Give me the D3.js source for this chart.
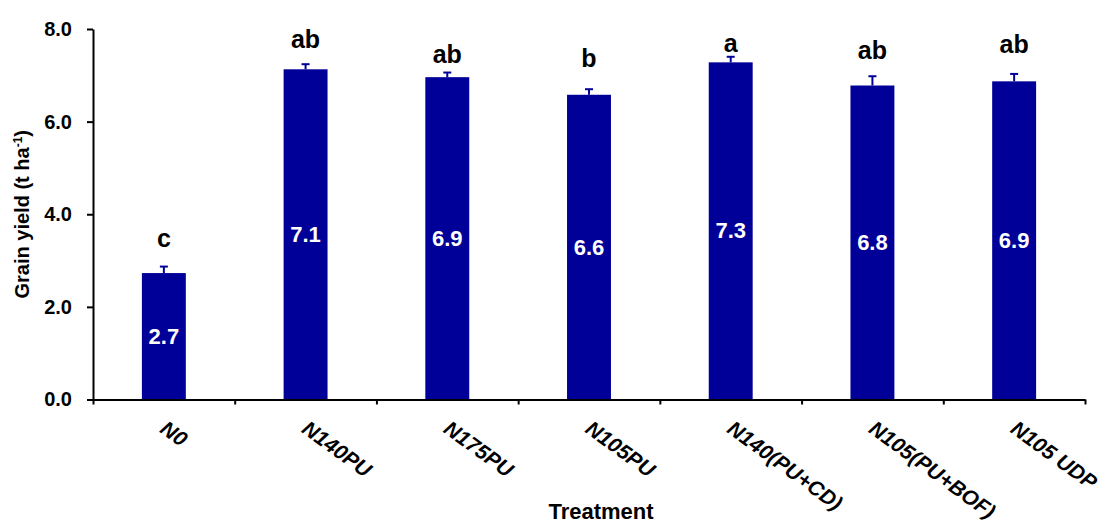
<!DOCTYPE html>
<html>
<head>
<meta charset="utf-8">
<script src="https://cdn.jsdelivr.net/npm/d3@7"></script>
<style>
    body { margin: 0; background: #fff; }
    text { font-family: "Liberation Sans", Arial, sans-serif; font-weight: bold; }
</style>
</head>
<body>
<script>
const width = 1112;
const height = 525;

let margin = {top: 29, right: 27, bottom: 125.5, left: 93};

// Data
const treatments = ["N0", "N140PU", "N175PU", "N105PU", "N140(PU+CD)", "N105(PU+BOF)", "N105 UDP"];
const yields = [2.73, 7.13, 6.96, 6.58, 7.28, 6.78, 6.87];
const yieldLabels = ["2.7", "7.1", "6.9", "6.6", "7.3", "6.8", "6.9"];
const errors = [0.14, 0.11, 0.10, 0.12, 0.12, 0.20, 0.16];
const letters = ["c", "ab", "ab", "b", "a", "ab", "ab"];
// height (in t/ha) where each significance letter sits
const letterLevels = [3.30, 7.58, 7.27, 7.19, 7.51, 7.35, 7.48];
const yTicks = [0, 2, 4, 6, 8];

const barColor = "#000099";

let svg = d3.select("body")
    .append("svg")
    .attr("width", width)
    .attr("height", height);

let xScale = d3.scaleBand()
    .domain(treatments)
    .range([margin.left, width - margin.right])
    .paddingInner(0.69)
    .paddingOuter(0.345);

// index scale, used only to put the x ticks between the bars
let xEdge = d3.scaleLinear()
    .domain([0, treatments.length])
    .range([margin.left, width - margin.right]);

let yScale = d3.scaleLinear()
    .domain([0, 8])
    .range([height - margin.bottom, margin.top]);

let center = d => xScale(d) + xScale.bandwidth() / 2;

///////////////
// Draw bars //
///////////////
let data = treatments.map((t, i) => ({
    name: t, value: yields[i], label: yieldLabels[i],
    err: errors[i], letter: letters[i], level: letterLevels[i]
}));

svg.selectAll("rect.bar")
    .data(data)
    .join("rect")
    .attr("class", "bar")
    .attr("x", d => xScale(d.name))
    .attr("y", d => yScale(d.value))
    .attr("width", xScale.bandwidth())
    .attr("height", d => yScale(0) - yScale(d.value))
    .attr("fill", barColor);

// error bars (upper half only)
let err = svg.append("g").attr("stroke", barColor).attr("stroke-width", 2);
err.selectAll("line.stem")
    .data(data)
    .join("line")
    .attr("class", "stem")
    .attr("x1", d => center(d.name))
    .attr("x2", d => center(d.name))
    .attr("y1", d => yScale(d.value))
    .attr("y2", d => yScale(d.value + d.err));
err.selectAll("line.cap")
    .data(data)
    .join("line")
    .attr("class", "cap")
    .attr("x1", d => center(d.name) - 4)
    .attr("x2", d => center(d.name) + 4)
    .attr("y1", d => yScale(d.value + d.err))
    .attr("y2", d => yScale(d.value + d.err));

// values inside the bars
svg.selectAll("text.value")
    .data(data)
    .join("text")
    .attr("class", "value")
    .attr("x", d => center(d.name))
    .attr("y", d => (yScale(d.value) + yScale(0)) / 2)
    .attr("text-anchor", "middle")
    .attr("dominant-baseline", "central")
    .attr("fill", "#fff")
    .style("font-size", "22px")
    .text(d => d.label);

// significance letters
svg.selectAll("text.letter")
    .data(data)
    .join("text")
    .attr("class", "letter")
    .attr("x", d => center(d.name))
    .attr("y", d => yScale(d.level))
    .attr("text-anchor", "middle")
    .attr("fill", "#000")
    .style("font-size", "25px")
    .text(d => d.letter);

///////////////
// Draw axis //
///////////////
let leftAxis = d3.axisLeft(yScale)
    .tickValues(yTicks)
    .tickFormat(d3.format(".1f"))
    .tickSize(6)
    .tickSizeOuter(0)
    .tickPadding(15);

let left = svg.append("g")
    .attr("transform", `translate(${margin.left}, 0)`)
    .call(leftAxis);
left.selectAll("text").style("font-size", "20px").attr("fill", "#000");

let bottomAxis = d3.axisBottom(xEdge)
    .tickValues(d3.range(treatments.length + 1))
    .tickFormat("")
    .tickSize(5)
    .tickSizeOuter(0);

let bottom = svg.append("g")
    .attr("transform", `translate(0, ${yScale(0)})`)
    .call(bottomAxis);

svg.selectAll(".domain, .tick line")
    .attr("stroke", "#000")
    .attr("stroke-width", 2);

// slanted category labels
svg.selectAll("text.cat")
    .data(treatments)
    .join("text")
    .attr("class", "cat")
    .attr("transform", d => `translate(${center(d) - 5}, ${yScale(0) + 32}) rotate(36)`)
    .attr("text-anchor", "start")
    .style("font-size", "21px")
    .style("font-style", "italic")
    .text(d => d);

// axis titles
svg.append("text")
    .attr("x", 601)
    .attr("y", 519)
    .attr("text-anchor", "middle")
    .style("font-size", "22px")
    .text("Treatment");

let yTitle = svg.append("text")
    .attr("transform", `translate(29, ${(yScale(0) + yScale(8)) / 2}) rotate(-90)`)
    .attr("text-anchor", "middle")
    .style("font-size", "20px");
yTitle.append("tspan").text("Grain yield (t ha");
yTitle.append("tspan").attr("dy", -7).style("font-size", "12px").text("-1");
yTitle.append("tspan").attr("dy", 7).text(")");
</script>
</body>
</html>
